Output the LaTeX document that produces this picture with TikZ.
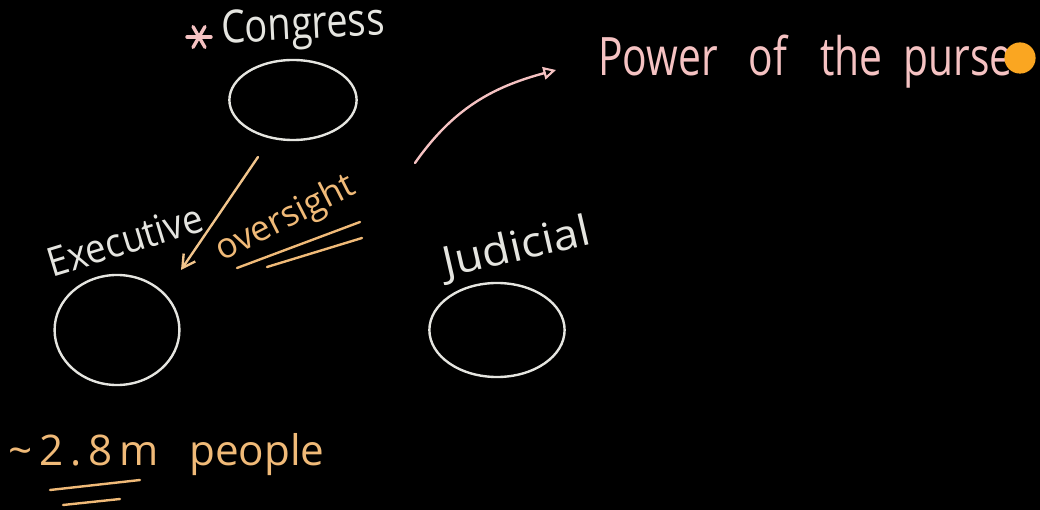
\documentclass[tikz,border=0pt]{standalone}
\usepackage{fontspec}
\usepackage{graphicx}
\setmainfont{Open Sans}
\usetikzlibrary{arrows.meta, calc, positioning, shapes.geometric}
\definecolor{chalkwhite}{rgb}{0.90, 0.90, 0.88}
\definecolor{chalkpink}{rgb}{0.96, 0.76, 0.76}
\definecolor{chalkorange}{rgb}{0.94, 0.73, 0.47}
\definecolor{dotorange}{rgb}{0.98, 0.65, 0.13}

\begin{document}
\begin{tikzpicture}[x=0.025cm, y=-0.025cm,
        chalk/.style={line width=1.7pt, line cap=round},
        branch/.style={draw=chalkwhite, chalk, ellipse, inner sep=0pt},
        scrawl/.style={inner sep=0pt, font=\fontsize{#1}{#1}\selectfont},
        scrawl/.default=28]
        \fill[black] (0,0) rectangle (1040,510);

        % the three branches
        \node[branch, minimum width=3.18cm, minimum height=2cm] (Cong) at (293, 100) {};
        \node[branch, minimum width=3.12cm, minimum height=2.75cm] (Exec) at (117, 330) {};
        \node[branch, minimum width=3.38cm, minimum height=2.35cm] (Jud) at (497, 330) {};

        \node[scrawl=27, text=chalkwhite, rotate=3] (CongLbl) at (303, 28) {\scalebox{1}[1.2]{Congress}};
        \node[scrawl=26, text=chalkwhite, rotate=17] (ExecLbl) at (125, 240) {\scalebox{1}[1.1]{Executive}};
        \node[scrawl=30, text=chalkwhite, rotate=13] (JudLbl) at (517, 249) {\scalebox{1.08}[1]{Judicial}};

        % star in front of Congress
        \coordinate (star) at (199, 37);
        \foreach \a in {0, 60, 120}
            \draw[chalk, chalkpink, line width=2.4pt] ($(star)+(\a:12)$) -- ($(star)+(\a+180:12)$);

        % oversight
        \coordinate (ovTop) at (258, 157);
        \coordinate (ovTip) at (181, 270);
        \draw[chalk, chalkorange!85!white, -{Straight Barb[length=9pt, width=10pt, line width=1.7pt]}] (ovTop) -- (ovTip);
        \node[scrawl=25, text=chalkorange, rotate=27] (ovLbl) at (286, 219) {oversight};
        \coordinate (ovA) at (237, 268);
        \coordinate (ovB) at (360, 222);
        \coordinate (ovC) at (267, 267);
        \coordinate (ovD) at (362, 238);
        \draw[chalk, chalkorange] (ovA) -- (ovB);
        \draw[chalk, chalkorange] (ovC) -- (ovD);

        % power of the purse
        \node[scrawl=29, text=chalkpink, anchor=west] (purse) at (598, 62) {\scalebox{1}[1.3]{Power\hspace{0.5em} of\hspace{0.55em} the\hspace{0.25em} purse}};
        \node[circle, fill=dotorange, minimum size=0.78cm, inner sep=0pt] (dot) at (1020, 58) {};
        \coordinate (purseFrom) at (415, 163);
        \coordinate (purseTo) at ($(purse.west)+(-42, 8)$);
        \draw[chalk, chalkpink, -{Triangle[open, length=9pt, width=9pt, line width=1.5pt]}] (purseFrom) to[out=55, in=195] (purseTo);

        % size of the executive
        \node[scrawl=30, text=chalkorange, anchor=west] (people) at (8, 455) {\textasciitilde\,2\,.\,8\,m\hspace{0.45em} people};
        \coordinate (ppA) at (50, 490);
        \coordinate (ppB) at (140, 480);
        \coordinate (ppC) at (63, 505);
        \coordinate (ppD) at (120, 499);
        \draw[chalk, chalkorange] (ppA) -- (ppB);
        \draw[chalk, chalkorange] (ppC) -- (ppD);
\end{tikzpicture}
\end{document}
